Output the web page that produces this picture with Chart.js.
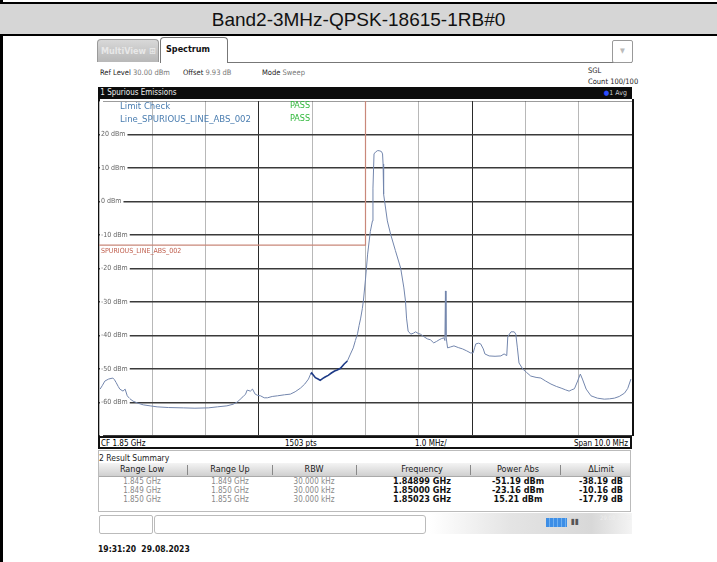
<!DOCTYPE html>
<html>
<head>
<meta charset="utf-8">
<script src="https://cdn.jsdelivr.net/npm/chart.js@4"></script>
<style>
  body { margin: 0; width: 717px; height: 562px; background: #fff; position: relative; overflow: hidden;
         font-family: "Liberation Sans Narrow", "DejaVu Sans Condensed", "Liberation Sans", sans-serif; }
  .abs { position: absolute; white-space: nowrap; }
  #titleRow { left: 0; top: 2px; width: 717px; height: 30px; background: #d6d6d6;
              border-top: 2px solid #000; border-bottom: 2px solid #000;
              font-family: "Liberation Sans", Arial, sans-serif; font-size: 19px; line-height: 31px; text-align: center; color: #111; }
  #leftRule { left: 0; top: 0; width: 3px; height: 562px; background: #000; }
  .tab { top: 39px; height: 23px; border: 1px solid #9a9a9a; border-bottom: none; border-radius: 4px 4px 0 0; font-size: 9px; line-height: 22px; font-weight: bold; }
  #tabMulti { left: 97px; width: 62px; background: linear-gradient(#d8d8d8, #b8b8b8); color: #e8e8e8; padding-left: 3px; box-sizing: border-box; }
  #tabSpec { left: 160px; width: 68px; background: #fff; color: #111; padding-left: 5px; box-sizing: border-box; border-color: #777; top: 37px; height: 26px; }
  #tabLine { left: 228px; top: 62px; width: 404px; height: 1px; background: #777; }
  #drop { left: 612px; top: 40px; width: 19px; height: 21px; border: 1px solid #999; border-radius: 2px; color: #bbb; font-size: 7px; text-align: center; line-height: 21px; }
  .hdr { font-size: 7.5px; color: #222; }
  .hdr span { color: #777; }
  #bar1 { left: 98px; top: 87px; width: 534px; height: 12px; background: #0c0c0c; color: #eee; font-size: 8px; line-height: 12px; }
  #plotBox { left: 98px; top: 99px; width: 532px; height: 337px; border-left: 2px solid #111; border-right: 2px solid #111; }
  #chartWrap { left: 99px; top: 101px; width: 533px; height: 335px; }
  .leg { font-size: 9.5px; color: #4a7db0; }
  .pass { font-size: 9px; color: #2fb83a; }
  #footBar { left: 98px; top: 436px; width: 534px; height: 13px; border: 2px solid #111; box-sizing: border-box; font-size: 8px; line-height: 10px; }
  #sumTitle { left: 99px; top: 453px; font-size: 8.5px; color: #222; }
  #sumPanel { left: 98px; top: 450px; width: 533px; height: 62px; border: 1px solid #bbb; box-sizing: border-box; }
  #thead { left: 99px; top: 463px; width: 531px; height: 13px; background: linear-gradient(#f4f4f4, #cfcfcf); border-bottom: 1px solid #aaa; }
  .th { top: 463px; font-size: 9px; line-height: 13px; color: #222; transform: translateX(-50%); }
  .div { top: 465px; width: 1px; height: 10px; background: #888; }
  .td { font-size: 8px; color: #888; transform: translateX(-50%); }
  .tb { font-size: 9px; font-weight: bold; color: #111; transform: translateX(-50%); font-family: "DejaVu Sans Condensed", "Liberation Sans Narrow", sans-serif; }
  #stat1 { left: 99px; top: 515px; width: 52px; height: 17px; border: 1px solid #bbb; border-radius: 2px; }
  #stat2 { left: 154px; top: 515px; width: 270px; height: 17px; border: 1px solid #bbb; border-radius: 3px; }
  #stat3 { left: 430px; top: 513px; width: 202px; height: 21px; background: linear-gradient(90deg, #fff, #e4e4e4 40%, #d8d8d8 80%, #f4f4f4); }
  #blue { left: 546px; top: 518px; width: 21px; height: 9px; background: repeating-linear-gradient(90deg, #3d8ee6 0 3px, #6fb0f0 3px 4px); }
  #stamp { left: 98px; top: 544px; font-size: 8.5px; font-weight: bold; color: #111; font-family: "DejaVu Sans Condensed", "Liberation Sans", sans-serif; }
</style>
</head>
<body>
<div id="leftRule" class="abs"></div>
<div id="titleRow" class="abs">Band2-3MHz-QPSK-18615-1RB#0</div>

<div id="tabMulti" class="abs tab">MultiView &#8862;</div>
<div id="tabSpec" class="abs tab">Spectrum</div>
<div id="tabLine" class="abs"></div>
<div id="drop" class="abs">&#9660;</div>

<div class="abs hdr" style="left:100px;top:68px">Ref Level <span>30.00 dBm</span></div>
<div class="abs hdr" style="left:183px;top:68px">Offset <span>9.93 dB</span></div>
<div class="abs hdr" style="left:262px;top:68px">Mode <span>Sweep</span></div>
<div class="abs hdr" style="left:588px;top:66px">SGL</div>
<div class="abs hdr" style="left:588px;top:77px">Count 100/100</div>

<div id="bar1" class="abs">&nbsp;1 Spurious Emissions<span style="position:absolute;right:5px;color:#ccc;font-size:7px"><span style="color:#2b4cff">&#9679;</span>1 Avg</span></div>
<div id="plotBox" class="abs"></div>
<div id="chartWrap" class="abs"><canvas id="spec" width="533" height="335"></canvas></div>

<div class="abs leg" style="left:120px;top:100px">Limit Check</div>
<div class="abs leg" style="left:120px;top:113px">Line_SPURIOUS_LINE_ABS_002</div>
<div class="abs pass" style="left:290px;top:100px">PASS</div>
<div class="abs pass" style="left:290px;top:113px">PASS</div>

<div id="footBar" class="abs">
  <span class="abs" style="left:1px;top:1px">CF 1.85 GHz</span>
  <span class="abs" style="left:185px;top:1px">1503 pts</span>
  <span class="abs" style="left:315px;top:1px">1.0 MHz/</span>
  <span class="abs" style="right:2px;top:1px">Span 10.0 MHz</span>
</div>

<div id="sumPanel" class="abs"></div>
<div id="sumTitle" class="abs">2 Result Summary</div>
<div id="thead" class="abs"></div>
<div id="table"></div>

<div id="stat1" class="abs"></div>
<div id="stat2" class="abs"></div>
<div id="stat3" class="abs"></div>
<div id="blue" class="abs"></div>
<div class="abs" style="left:571px;top:517px;font-size:8px;color:#555">&#9646;&#9646;</div>
<div class="abs" style="left:600px;top:514px;font-size:6px;color:#eee">29.08.2023</div>

<div id="stamp" class="abs">19:31:20&nbsp; 29.08.2023</div>

<script>
// measured trace, 1.845 .. 1.855 GHz
const traceFreq = [
  1.84502, 1.84506, 1.84511, 1.84518, 1.84526, 1.84529, 1.84532, 1.84536, 1.84539, 1.84545,
  1.84549, 1.84553, 1.84558, 1.84564, 1.84573, 1.84583, 1.84596, 1.84609, 1.84630, 1.84658,
  1.84680, 1.84705, 1.84722, 1.84740, 1.84752, 1.84760, 1.84765, 1.84770, 1.84775, 1.84778,
  1.84784, 1.84788, 1.84793, 1.84798, 1.84803, 1.84810, 1.84816, 1.84825, 1.84835, 1.84848,
  1.84859, 1.84868, 1.84878, 1.84886, 1.84893, 1.84897, 1.84899, 1.84902, 1.84906, 1.84911,
  1.84915, 1.84920, 1.84925, 1.84930, 1.84936, 1.84942, 1.84947, 1.84953, 1.84960, 1.84966,
  1.84971, 1.84977, 1.84981, 1.84985, 1.84988, 1.84991, 1.84994, 1.84996, 1.85000, 1.85004,
  1.85009, 1.85013, 1.85014, 1.85016, 1.85019, 1.85023, 1.85027, 1.85030, 1.85032, 1.85033,
  1.85034, 1.85041, 1.85047, 1.85056, 1.85066, 1.85072, 1.85075, 1.85077, 1.85080, 1.85085,
  1.85090, 1.85094, 1.85099, 1.85103, 1.85110, 1.85116, 1.85122, 1.85128, 1.85133, 1.85138,
  1.85143, 1.85147, 1.85149, 1.85150, 1.85151, 1.85154, 1.85160, 1.85166, 1.85174, 1.85182,
  1.85190, 1.85197, 1.85202, 1.85205, 1.85207, 1.85212, 1.85216, 1.85221, 1.85224, 1.85232,
  1.85243, 1.85254, 1.85260, 1.85265, 1.85267, 1.85273, 1.85279, 1.85282, 1.85285, 1.85288,
  1.85295, 1.85302, 1.85310, 1.85320, 1.85329, 1.85338, 1.85348, 1.85358, 1.85367, 1.85375,
  1.85382, 1.85387, 1.85392, 1.85398, 1.85403, 1.85407, 1.85414, 1.85423, 1.85435, 1.85448,
  1.85458, 1.85467, 1.85476, 1.85486, 1.85492, 1.85498
];
const traceLevel = [
  -56.0, -55.0, -53.6, -53.0, -52.7, -53.2, -54.0, -55.2, -56.0, -56.6,
  -56.0, -58.0, -58.9, -59.6, -60.2, -60.7, -61.0, -61.3, -61.5, -61.6,
  -61.7, -61.6, -61.3, -61.0, -60.5, -59.8, -59.0, -58.3, -57.5, -56.3,
  -56.6, -56.0, -57.5, -57.9, -58.0, -58.6, -58.6, -58.2, -58.0, -57.7,
  -57.5, -56.8, -55.7, -54.5, -53.0, -51.5, -51.19, -51.8, -52.6, -53.0,
  -53.4, -52.8, -52.3, -51.9, -51.2, -50.6, -50.3, -49.8, -48.5, -47.6,
  -45.8, -43.7, -41.5, -39.5, -37.0, -34.8, -32.0, -29.7, -23.16, -15.7,
  -9.0, -5.8, 4.0, 14.2, 14.8, 15.21, 15.1, 14.9, 14.2, 11.2,
  2.2, -5.8, -9.7, -14.6, -19.9, -25.8, -29.7, -34.8, -38.7, -39.6,
  -39.3, -38.9, -39.4, -39.6, -40.4, -41.0, -41.3, -42.2, -41.8, -41.3,
  -40.9, -40.7, -41.5, -26.7, -40.2, -43.7, -43.4, -43.1, -43.6, -44.0,
  -44.6, -45.2, -45.2, -43.5, -42.5, -42.3, -42.5, -44.0, -45.5, -46.1,
  -46.2, -46.1, -45.5, -46.0, -40.3, -38.9, -38.9, -39.6, -43.7, -48.2,
  -50.0, -51.0, -52.1, -52.5, -52.7, -53.6, -54.5, -55.2, -55.7, -56.2,
  -56.6, -56.2, -55.9, -53.6, -51.5, -53.0, -56.0, -58.0, -58.7, -59.0,
  -58.9, -58.7, -58.2, -57.2, -55.8, -53.0
];

// SPURIOUS_LINE_ABS_002 limit
const limitFreq = [1.845, 1.850, 1.850];
const limitLevel = [-13, -13, 33];

// result summary rows
const rangeLow = ["1.845 GHz", "1.849 GHz", "1.850 GHz"];
const rangeUp = ["1.849 GHz", "1.850 GHz", "1.855 GHz"];
const rbw = ["30.000 kHz", "30.000 kHz", "30.000 kHz"];
const peakFreq = ["1.84899 GHz", "1.85000 GHz", "1.85023 GHz"];
const powerAbs = ["-51.19 dBm", "-23.16 dBm", "15.21 dBm"];
const deltaLimit = ["-38.19 dB", "-10.16 dB", "-17.79 dB"];

// table
const cols = [
  { head: "Range Low", x: 142, vals: rangeLow, cls: "td" },
  { head: "Range Up", x: 230, vals: rangeUp, cls: "td" },
  { head: "RBW", x: 314, vals: rbw, cls: "td" },
  { head: "Frequency", x: 422, vals: peakFreq, cls: "tb" },
  { head: "Power Abs", x: 518, vals: powerAbs, cls: "tb" },
  { head: "\u0394Limit", x: 601, vals: deltaLimit, cls: "tb" }
];
const dividers = [187, 272, 356, 470, 560];
let html = "";
cols.forEach(c => {
  html += `<div class="abs th" style="left:${c.x}px">${c.head}</div>`;
  c.vals.forEach((v, i) => {
    const top = (c.cls === "tb" ? 476 : 477) + i * 9;
    html += `<div class="abs ${c.cls}" style="left:${c.x}px;top:${top}px">${v}</div>`;
  });
});
dividers.forEach(x => { html += `<div class="abs div" style="left:${x}px"></div>`; });
document.getElementById("table").innerHTML = html;

const points = traceFreq.map((f, i) => ({ x: f, y: traceLevel[i] }));
const limitPts = limitFreq.map((f, i) => ({ x: f, y: limitLevel[i] }));

// label under the limit line
const limitLabel = {
  id: "limitLabel",
  afterDatasetsDraw(chart) {
    const { ctx, scales } = chart;
    const x = scales.x.getPixelForValue(limitFreq[0]);
    const y = scales.y.getPixelForValue(limitLevel[0]);
    ctx.save();
    ctx.font = '7px "Liberation Sans Narrow", "DejaVu Sans Condensed", sans-serif';
    ctx.fillStyle = "#c0604f";
    ctx.textBaseline = "top";
    ctx.fillText("SPURIOUS_LINE_ABS_002", x + 2, y + 3);
    ctx.restore();
  }
};

new Chart(document.getElementById("spec"), {
  type: "scatter",
  plugins: [limitLabel],
  data: {
    datasets: [
      {
        data: limitPts,
        showLine: true,
        borderColor: "#c9887a",
        borderWidth: 1.2,
        pointRadius: 0,
        order: 2
      },
      {
        data: points,
        showLine: true,
        borderColor: "#7386ad",
        borderWidth: 1,
        pointRadius: 0,
        order: 1,
        segment: {
          // overlapping sweeps near the carrier skirt read darker
          borderColor: c => (c.p0.parsed.x >= 1.84895 && c.p1.parsed.x <= 1.84968) ? "#1d3a86" : undefined,
          borderWidth: c => (c.p0.parsed.x >= 1.84895 && c.p1.parsed.x <= 1.84968) ? 1.6 : undefined
        }
      }
    ]
  },
  options: {
    responsive: false,
    animation: false,
    layout: { padding: 0 },
    plugins: { legend: { display: false }, tooltip: { enabled: false } },
    scales: {
      x: {
        type: "linear",
        min: 1.845,
        max: 1.855,
        afterFit: s => { s.height = 0; s.paddingLeft = 0; s.paddingRight = 0; },
        ticks: { display: false, stepSize: 0.001 },
        border: { display: false },
        grid: {
          drawTicks: false,
          lineWidth: 1,
          color: c => (c.index === 3 || c.index === 7) ? "#2a2a2a" : "#b8b8b8"
        }
      },
      y: {
        min: -70,
        max: 30,
        // labels sit inside the grid, so the axis takes no room
        afterFit: s => { s.width = 0; s.paddingTop = 0; s.paddingBottom = 0; },
        border: { display: false },
        grid: { drawTicks: false, color: "#3a3a3a", lineWidth: 1.5 },
        ticks: {
          stepSize: 10,
          mirror: true,
          padding: 2,
          z: 1,
          color: "#666",
          font: { size: 7, family: '"Liberation Sans Narrow", "DejaVu Sans Condensed", sans-serif' },
          showLabelBackdrop: true,
          backdropColor: "#ffffff",
          backdropPadding: { left: 1, right: 2, top: 0, bottom: 0 },
          callback: v => (v === 30 || v === -70) ? "" : v + " dBm"
        }
      }
    }
  }
});
</script>
</body>
</html>
